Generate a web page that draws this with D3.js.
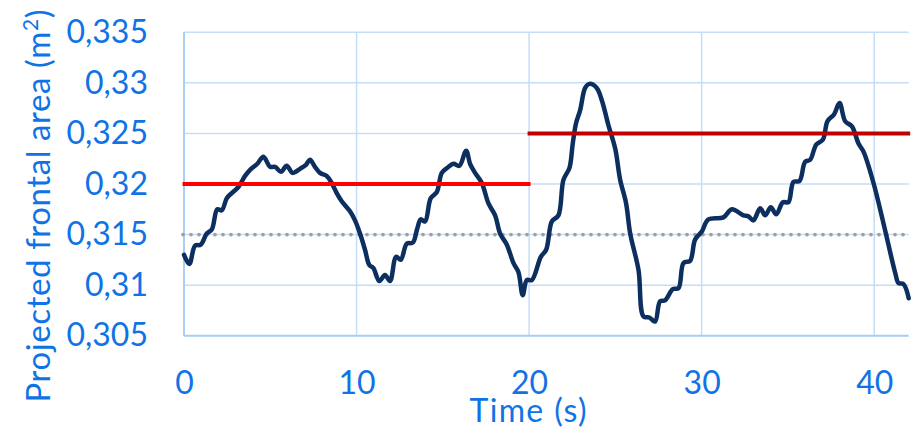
<!DOCTYPE html>
<html>
<head>
<meta charset="utf-8">
<script src="https://cdn.jsdelivr.net/npm/d3@7"></script>
<style>
  body { margin: 0; background: #fff; }
  svg { display: block; }
</style>
</head>
<body>
<svg id="chart" width="923" height="432"></svg>
<script>
// Measured projected frontal area over time
const timeS = [
  0.00, 0.31, 0.64, 0.97, 1.32, 1.61, 1.93, 2.19, 2.48, 2.77, 3.15, 3.54, 3.83, 4.25, 4.60,
  4.99, 5.28, 5.62, 5.95, 6.30, 6.72, 7.07, 7.30, 7.59, 7.88, 8.27, 8.56, 8.85, 9.14, 9.62,
  9.91, 10.20, 10.49, 10.74, 10.97, 11.32, 11.65, 11.94, 12.29, 12.56, 12.91, 13.26, 13.52, 13.72, 13.97,
  14.30, 14.65, 14.94, 15.26, 15.61, 15.96, 16.35, 16.58, 16.87, 17.26, 17.64, 18.03, 18.32, 18.71, 19.09,
  19.38, 19.63, 19.87, 20.16, 20.68, 20.99, 21.32, 21.70, 21.99, 22.34, 22.53, 22.72, 22.96, 23.25, 23.50,
  23.92, 24.21, 24.60, 24.99, 25.28, 25.62, 25.86, 26.34, 26.63, 26.97, 27.30, 27.59, 27.88, 28.33, 28.66,
  28.95, 29.33, 29.62, 30.01, 30.39, 31.26, 31.75, 32.42, 32.71, 33.00, 33.39, 33.68, 34.01, 34.32, 34.71,
  35.03, 35.32, 35.67, 36.00, 36.29, 36.64, 37.03, 37.29, 37.68, 37.99, 38.32, 38.71, 39.09, 39.38, 39.96,
  40.54, 41.22, 41.41, 41.70, 42.00
];
const areaM2 = [
  0.3130, 0.3121, 0.3139, 0.3140, 0.3151, 0.3155, 0.3175, 0.3174, 0.3186, 0.3191, 0.3197, 0.3208, 0.3214, 0.3220, 0.3227,
  0.3217, 0.3217, 0.3212, 0.3218, 0.3211, 0.3215, 0.3219, 0.3224, 0.3217, 0.3211, 0.3208, 0.3201, 0.3191, 0.3183, 0.3173,
  0.3164, 0.3151, 0.3135, 0.3120, 0.3117, 0.3104, 0.3110, 0.3104, 0.3128, 0.3125, 0.3141, 0.3142, 0.3156, 0.3165, 0.3163,
  0.3186, 0.3192, 0.3211, 0.3216, 0.3220, 0.3218, 0.3233, 0.3220, 0.3211, 0.3201, 0.3181, 0.3169, 0.3151, 0.3140, 0.3122,
  0.3113, 0.3090, 0.3105, 0.3105, 0.3128, 0.3135, 0.3163, 0.3169, 0.3204, 0.3216, 0.3240, 0.3260, 0.3273, 0.3295, 0.3299,
  0.3295, 0.3283, 0.3258, 0.3235, 0.3204, 0.3181, 0.3151, 0.3115, 0.3069, 0.3068, 0.3064, 0.3084, 0.3085, 0.3096, 0.3097,
  0.3122, 0.3124, 0.3145, 0.3153, 0.3165, 0.3167, 0.3175, 0.3169, 0.3168, 0.3164, 0.3176, 0.3169, 0.3177, 0.3170, 0.3182,
  0.3182, 0.3202, 0.3203, 0.3222, 0.3224, 0.3239, 0.3244, 0.3262, 0.3269, 0.3280, 0.3262, 0.3257, 0.3240, 0.3232, 0.3201,
  0.3161, 0.3112, 0.3102, 0.3101, 0.3087
];

// Mean level per phase
const phaseStart = [0, 20];
const phaseEnd = [20, 42];
const phaseMean = [0.320, 0.325];

// Reference level
const referenceLevel = 0.315;

// Axes
const xDomain = [0, 42];
const yDomain = [0.305, 0.335];
const xTicks = [0, 10, 20, 30, 40];
const xTickLabels = ["0", "10", "20", "30", "40"];
const yTicks = [0.305, 0.31, 0.315, 0.32, 0.325, 0.33, 0.335];
const yTickLabels = ["0,305", "0,31", "0,315", "0,32", "0,325", "0,33", "0,335"];

const W = 923, H = 432;
const margin = { top: 32.3, right: 14.3, bottom: 96.3, left: 184 };
const FONT = "Lato, 'Open Sans', sans-serif";
const TEXT = "#0f73e6";

const svg = d3.select("#chart");
const x = d3.scaleLinear().domain(xDomain).range([margin.left, W - margin.right]);
const y = d3.scaleLinear().domain(yDomain).range([H - margin.bottom, margin.top]);

// Grid
const grid = svg.append("g");
grid.selectAll("line.h").data(yTicks.slice(1)).join("line")
  .attr("x1", x(0)).attr("x2", x(xDomain[1]))
  .attr("y1", d => y(d)).attr("y2", d => y(d))
  .attr("stroke", "#c5ddf7").attr("stroke-width", 1.5);
grid.selectAll("line.v").data(xTicks.slice(1)).join("line")
  .attr("x1", d => x(d)).attr("x2", d => x(d))
  .attr("y1", y(yDomain[0])).attr("y2", y(yDomain[1]))
  .attr("stroke", "#c5ddf7").attr("stroke-width", 1.5);

// Axis lines
svg.append("line")
  .attr("x1", x(0)).attr("x2", x(0))
  .attr("y1", y(yDomain[0])).attr("y2", y(yDomain[1]))
  .attr("stroke", "#a9cdf4").attr("stroke-width", 2);
svg.append("line")
  .attr("x1", x(0)).attr("x2", x(xDomain[1]))
  .attr("y1", y(yDomain[0])).attr("y2", y(yDomain[0]))
  .attr("stroke", "#a9cdf4").attr("stroke-width", 2);

// Tick labels
const yAxis = svg.append("g")
  .attr("transform", `translate(${x(0)},0)`)
  .call(d3.axisLeft(y).tickValues(yTicks).tickSize(0).tickPadding(36)
    .tickFormat((d, i) => yTickLabels[i]));
const xAxis = svg.append("g")
  .attr("transform", `translate(0,${y(yDomain[0])})`)
  .call(d3.axisBottom(x).tickValues(xTicks).tickSize(0).tickPadding(36)
    .tickFormat((d, i) => xTickLabels[i]));
[yAxis, xAxis].forEach(g => {
  g.select(".domain").remove();
  g.selectAll("text").attr("fill", TEXT).attr("font-family", FONT).attr("font-size", 32);
});

// Reference level (dotted)
svg.append("line")
  .attr("x1", x(0) - 1).attr("x2", x(xDomain[1]) - 2)
  .attr("y1", y(referenceLevel)).attr("y2", y(referenceLevel))
  .attr("stroke", "#a0a0a0").attr("stroke-width", 3.8)
  .attr("stroke-linecap", "round").attr("stroke-dasharray", "0 8");

// Area time series
const line = d3.line()
  .x((d, i) => x(timeS[i]))
  .y(d => y(d))
  .curve(d3.curveCatmullRom.alpha(0.5));
svg.append("path")
  .attr("d", line(areaM2))
  .attr("fill", "none")
  .attr("stroke", "#0c2f5f")
  .attr("stroke-width", 4.5)
  .attr("stroke-linejoin", "round")
  .attr("stroke-linecap", "round");

// Phase means
const phaseColors = ["#ff0000", "#c00000"];
svg.selectAll("line.mean").data(phaseMean).join("line")
  .attr("x1", (d, i) => x(phaseStart[i]) - 1.5)
  .attr("x2", (d, i) => x(phaseEnd[i]) + 1.5)
  .attr("y1", d => y(d)).attr("y2", d => y(d))
  .attr("stroke", (d, i) => phaseColors[i])
  .attr("stroke-width", 4);

// Axis titles
svg.append("text")
  .attr("x", 528)
  .attr("y", 422)
  .attr("text-anchor", "middle")
  .attr("fill", TEXT).attr("font-family", FONT).attr("font-size", 32)
  .attr("textLength", 117).attr("lengthAdjust", "spacing")
  .text("Time (s)");

const yTitle = svg.append("text")
  .attr("transform", "translate(50,206) rotate(-90)")
  .attr("text-anchor", "middle")
  .attr("fill", TEXT).attr("font-family", FONT).attr("font-size", 33)
  .attr("textLength", 393).attr("lengthAdjust", "spacing");
yTitle.append("tspan").text("Projected frontal area (m");
yTitle.append("tspan").attr("baseline-shift", "super").attr("font-size", 21).text("2");
yTitle.append("tspan").text(")");
</script>
</body>
</html>
